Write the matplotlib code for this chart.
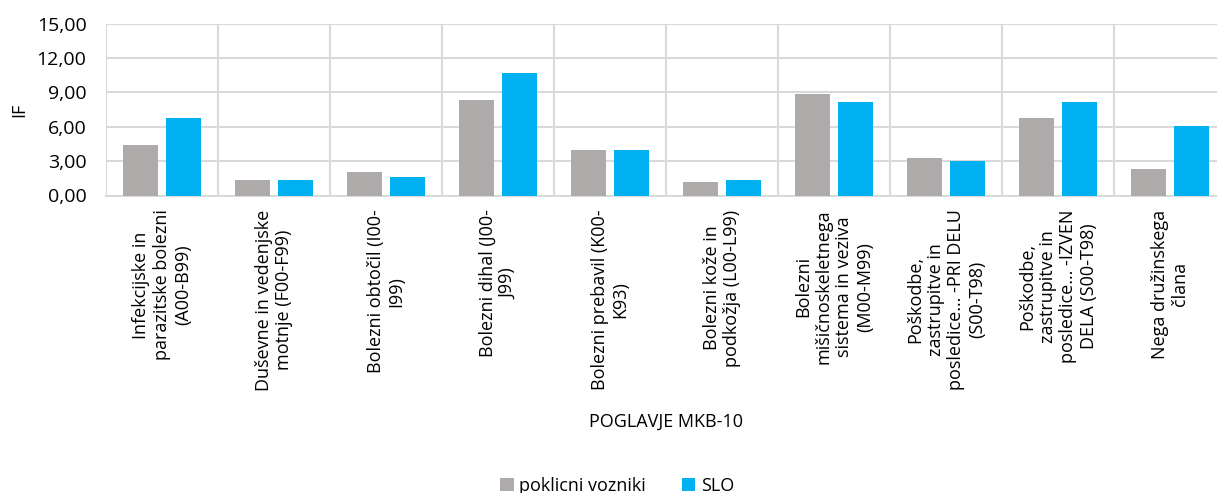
import numpy as np
import matplotlib.pyplot as plt
from matplotlib.ticker import FuncFormatter

plt.rcParams['font.family'] = ['Open Sans', 'DejaVu Sans']

# MKB-10 chapters and IF values
kategorije = [
    "Infekcijske in\nparazitske bolezni\n(A00-B99)",
    "Duševne in vedenjske\nmotnje (F00-F99)",
    "Bolezni obtočil (I00-\nI99)",
    "Bolezni dihal (J00-\nJ99)",
    "Bolezni prebavil (K00-\nK93)",
    "Bolezni kože in\npodkožja (L00-L99)",
    "Bolezni\nmišičnoskeletnega\nsistema in veziva\n(M00-M99)",
    "Poškodbe,\nzastrupitve in\nposledice… -PRI DELU\n(S00-T98)",
    "Poškodbe,\nzastrupitve in\nposledice… -IZVEN\nDELA (S00-T98)",
    "Nega družinskega\nčlana",
]
vozniki = [4.41, 1.39, 2.09, 8.37, 3.95, 1.16, 8.83, 3.25, 6.74, 2.32]
slo = [6.74, 1.39, 1.62, 10.72, 3.95, 1.39, 8.14, 3.05, 8.14, 6.04]
serije = ["poklicni vozniki", "SLO"]
y_ticks = [0, 3, 6, 9, 12, 15]

grid_c = '#D9D9D9'
fig = plt.figure(figsize=(12.17, 4.93), dpi=100)
# axes run a little past the right edge of the figure
ax = fig.add_axes([106/1217, 1-195.5/493, 1120/1217, 172/493])

x = np.arange(len(kategorije))
w = 0.31
ax.bar(x - 0.192, vozniki, w, color='#AEAAAA', label=serije[0], zorder=3)
ax.bar(x + 0.192, slo, w, color='#00B0F0', label=serije[1], zorder=3)

ax.set_xlim(-0.5, len(kategorije) - 0.5)
ax.set_ylim(0, 15)
ax.set_yticks(y_ticks)
ax.yaxis.set_major_formatter(FuncFormatter(lambda v, p: f"{v:.2f}".replace('.', ',')))
ax.grid(axis='y', color=grid_c, lw=1.5, zorder=0)
# category separators
for b in np.arange(-0.5, len(kategorije), 1.0):
    ax.axvline(b, color=grid_c, lw=1.5, zorder=0)

ax.set_xticks(x)
ax.set_xticklabels(kategorije, rotation=90, va='top', ha='center',
                   multialignment='center', fontsize=13, linespacing=1.2)
ax.tick_params(axis='x', length=0, pad=10)
ax.tick_params(axis='y', length=0, pad=14, labelsize=14)
for s in ['top', 'right', 'left']:
    ax.spines[s].set_visible(False)
ax.spines['bottom'].set_color(grid_c)
ax.spines['bottom'].set_linewidth(1.5)

ax.set_ylabel("IF", fontsize=13, labelpad=6)
fig.text(666/1217, 1-422/493, "POGLAVJE MKB-10", ha='center', va='center', fontsize=13)

fig.legend(loc='center', bbox_to_anchor=(617/1217, 1-486/493), ncol=2, frameon=False,
           fontsize=13, handlelength=0.75, handleheight=0.75, handletextpad=0.3,
           columnspacing=2.0)

fig.savefig('out.png', dpi=100)
